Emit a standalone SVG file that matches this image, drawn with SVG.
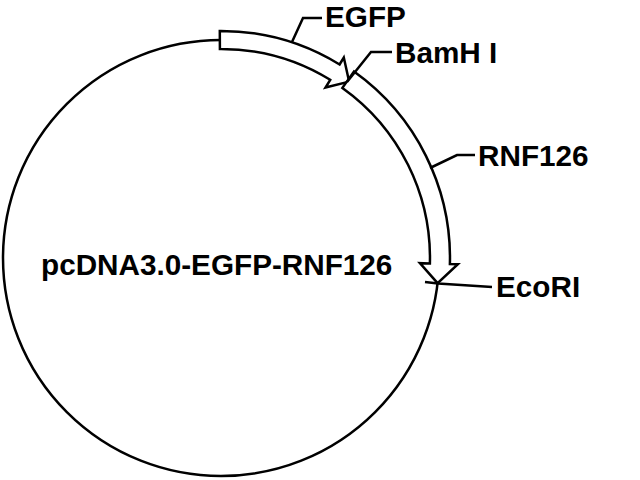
<svg xmlns="http://www.w3.org/2000/svg" width="640" height="480" viewBox="0 0 640 480">
<style>
.ln{fill:none;stroke:#000;stroke-width:2.5}
.ar{fill:#fff;stroke:#000;stroke-width:2.5;stroke-linejoin:miter}
.tx{font-family:"Liberation Sans",Arial,sans-serif;font-weight:bold;font-size:29.7px;fill:#000}
</style>
<rect width="640" height="480" fill="#fff"/>
<g id="plasmid">
<circle class="ln" cx="221" cy="258" r="218"/>
<text class="tx" x="41" y="275">pcDNA3.0-EGFP-RNF126</text>
</g>
<g id="egfp">
<path class="ar" d="M219.8 31 A227 227 0 0 1 339.6 64.5 L343.8 57.6 L349.1 81.6 L325.5 87.5 L330.2 79.8 A209 209 0 0 0 219.9 49 Z"/>
<text class="tx" x="325" y="27">EGFP</text>
</g>
<g id="rnf126">
<path class="ar" d="M354 71.6 A229 229 0 0 1 449.9 264 L457.9 264.2 L437.6 283.1 L419.9 263.2 L429.9 263.5 A209 209 0 0 0 342.4 87.9 Z"/>
<text class="tx" x="478" y="166">RNF126</text>
</g>
<g id="bamhi">
<text class="tx" x="395" y="63">BamH I</text>
</g>
<g id="ecori">
<text class="tx" x="496" y="297">EcoRI</text>
</g>
<g id="connectors">
<polyline class="ln" points="292,42 303,18 322,18"/>
<polyline class="ln" points="347,82 371,52 392,52"/>
<polyline class="ln" points="430,168 457,155 475,155"/>
<polyline class="ln" points="425,282 438,283.5 492,287"/>
</g>
</svg>
